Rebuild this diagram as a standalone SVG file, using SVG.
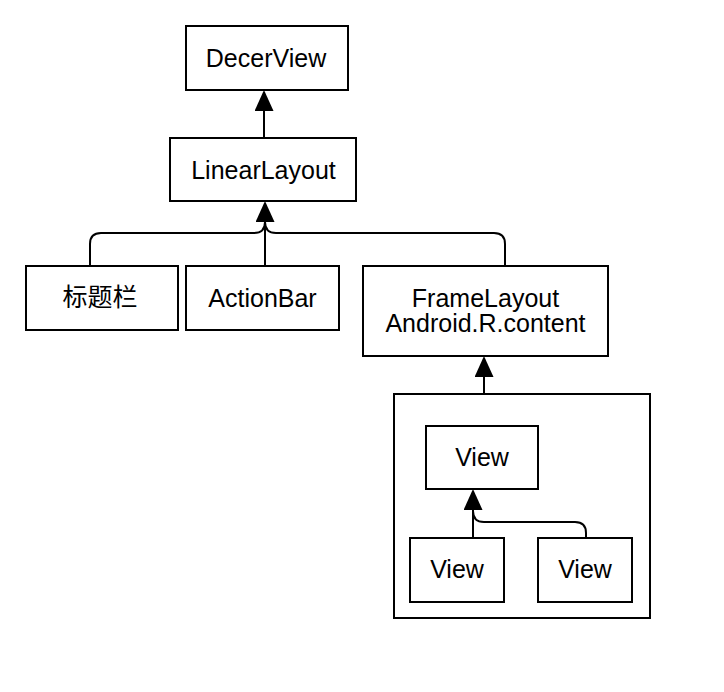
<svg xmlns="http://www.w3.org/2000/svg" width="724" height="692" viewBox="0 0 724 692">
<style>
.box{fill:#fff;stroke:#000;stroke-width:2}
.lbl{font-family:"Liberation Sans",Arial,"Noto Sans CJK SC",sans-serif;font-size:25px;fill:#000;text-anchor:middle}
.con{fill:none;stroke:#000;stroke-width:2}
</style>
<defs>
<marker id="arr" markerUnits="userSpaceOnUse" viewBox="0 0 21 19" markerWidth="21" markerHeight="19" refX="0" refY="9.5" orient="auto">
<path d="M0,0 L21,9.5 L0,19 z" fill="#000"/>
</marker>
</defs>
<rect width="724" height="692" fill="#fff"/>
<g id="container"><rect class="box" x="394" y="394" width="256" height="224"/></g>
<g id="decerview"><rect class="box" x="186" y="26" width="162" height="64"/><text class="lbl" x="266" y="66.5">DecerView</text></g>
<g id="linearlayout"><rect class="box" x="170" y="138" width="186" height="63"/><text class="lbl" x="263.5" y="178.5">LinearLayout</text></g>
<g id="titlebar"><rect class="box" x="26" y="266" width="152" height="64"/><text class="lbl" x="100" y="306">标题栏</text></g>
<g id="actionbar"><rect class="box" x="186" y="266" width="153" height="64"/><text class="lbl" x="262.5" y="306.5">ActionBar</text></g>
<g id="framelayout"><rect class="box" x="363" y="266" width="245" height="90"/><text class="lbl" x="485.5" y="306.5">FrameLayout</text><text class="lbl" x="485.5" y="331.5">Android.R.content</text></g>
<g id="view1"><rect class="box" x="426" y="426" width="112" height="63"/><text class="lbl" x="482" y="466">View</text></g>
<g id="view2"><rect class="box" x="410" y="538" width="94" height="64"/><text class="lbl" x="457" y="578">View</text></g>
<g id="view3"><rect class="box" x="538" y="538" width="94" height="64"/><text class="lbl" x="585" y="578">View</text></g>
<g id="connectors">
<path class="con" d="M264,138 V111" marker-end="url(#arr)"/>
<path class="con" d="M265,266 V222" marker-end="url(#arr)"/>
<path class="con" d="M90,266 V244 Q90,233 101,233 H254 Q265,233 265,222"/>
<path class="con" d="M505,266 V244 Q505,233 494,233 H276 Q265,233 265,222"/>
<path class="con" d="M484,394 V377" marker-end="url(#arr)"/>
<path class="con" d="M473,538 V510" marker-end="url(#arr)"/>
<path class="con" d="M586,538 V533 Q586,522 575,522 H484 Q473,522 473,511"/>
</g>
</svg>
